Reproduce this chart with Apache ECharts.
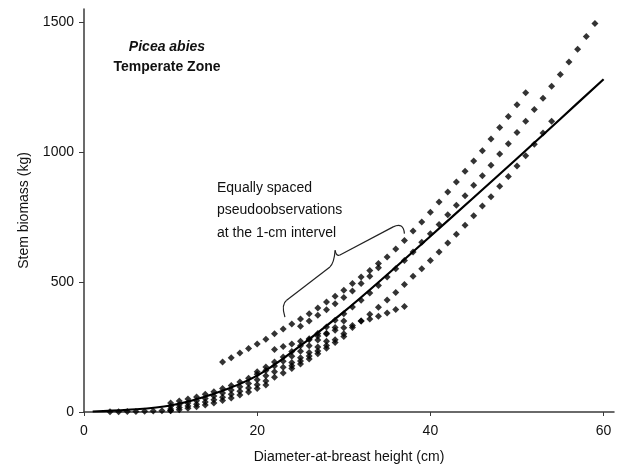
<!DOCTYPE html>
<html>
<head>
<meta charset="utf-8">
<script src="https://cdn.jsdelivr.net/npm/echarts@6/dist/echarts.min.js"></script>
<style>
    html, body { margin: 0; padding: 0; background: #fff; }
    #chart { width: 618px; height: 465px; }
</style>
</head>
<body>
<div id="chart"></div>
<script>
    // pseudoobservations, 1-cm steps: first DBH + stem biomass (kg)
    var zeroStart = 3;
    var zeroRow = [1, 1, 2, 2, 3, 4, 5, 6];
    var g4Start = 10;
    var g4 = [5, 9, 14, 20, 27, 35, 44, 54, 65, 77, 90, 104];
    var g3Start = 10;
    var g3 = [12, 17, 23, 30, 38, 47, 57, 68, 80, 92, 105, 119, 134, 150, 167, 185, 204, 224, 245, 267, 290];
    var g2Start = 10;
    var g2 = [22, 28, 35, 43, 52, 62, 73, 85, 97, 110, 124, 139, 155, 172, 190, 209, 229, 250, 272];
    var g1Start = 10;
    var g1 = [35, 42, 50, 58, 68, 78, 90, 102, 115, 130, 145, 160, 177, 195, 214, 234, 255, 277, 300, 325, 350];
    var aStart = 20;
    var aVals = [155, 173, 192, 212, 233, 255, 278, 302, 327, 353, 378, 404, 430, 458, 487, 519, 551, 583, 615, 653,
        686, 721, 759, 795, 832, 872, 909, 949, 992, 1032, 1075, 1118, 1163, 1207, 1253, 1298, 1346, 1395, 1444, 1494];
    var bStart = 16;
    var bVals = [192, 209, 227, 244, 262, 280, 301, 319, 338, 358, 378, 400, 423, 445, 468, 494, 519, 544, 571, 596,
        627, 660, 696, 731, 768, 808, 846, 885, 926, 965, 1005, 1050, 1094, 1137, 1182, 1228];
    var b2Start = 25;
    var b2Vals = [330, 350, 372, 393, 416, 440, 465, 494, 522, 555];
    var cStart = 24;
    var cVals = [178, 196, 215, 235, 256, 278, 301, 325, 350, 376, 403, 431, 460, 490, 522, 551, 583, 615, 650, 684,
        718, 755, 792, 828, 868, 906, 946, 986, 1030, 1073, 1118];
    var eStart = 22;
    var eVals = [240, 252, 262, 272, 282, 292, 303, 314, 324, 333, 350, 358, 368, 381, 394, 406];

    // fitted curve
    var fitDbh = [1, 5, 10, 15, 20, 25, 30, 35, 40, 45, 50, 55, 60];
    var fitBiomass = [2, 8, 25, 70, 140, 255, 385, 528, 676, 825, 975, 1127, 1280];

    var xTicks = [0, 20, 40, 60];
    var yTicks = [0, 500, 1000, 1500];

    var groups = [
        [zeroStart, zeroRow], [g4Start, g4], [g3Start, g3], [g2Start, g2], [g1Start, g1],
        [aStart, aVals], [bStart, bVals], [b2Start, b2Vals], [cStart, cVals], [eStart, eVals]
    ];

    var font = "'Liberation Sans', Arial, sans-serif";
    var axisColor = '#3a3a3a';

    var series = groups.map(function (g) {
        return {
            type: 'scatter',
            symbol: 'diamond',
            symbolSize: 7,
            itemStyle: { color: '#000' },
            data: g[1].map(function (v, i) { return [g[0] + i, v]; })
        };
    });
    series.push({
        type: 'line',
        smooth: 0.35,
        symbol: 'none',
        lineStyle: { color: '#000', width: 2.2 },
        data: fitDbh.map(function (d, i) { return [d, fitBiomass[i]]; }),
        z: 5
    });

    var myChart = echarts.init(document.getElementById('chart'));
    myChart.setOption({
        animation: false,
        grid: { left: 84, right: 4, top: 9, bottom: 53, outerBoundsMode: 'none' },
        xAxis: {
            type: 'value',
            min: 0,
            max: 61.2,
            interval: 20,
            name: 'Diameter-at-breast height (cm)',
            nameLocation: 'middle',
            nameGap: 38,
            nameTextStyle: { color: '#111', fontSize: 14, fontFamily: font },
            axisLine: { lineStyle: { color: axisColor, width: 1.5 } },
            axisTick: { length: 4, customValues: xTicks, lineStyle: { color: axisColor } },
            axisLabel: { customValues: xTicks, margin: 12, color: '#111', fontSize: 14, fontFamily: font },
            splitLine: { show: false }
        },
        yAxis: {
            type: 'value',
            min: 0,
            max: 1550,
            interval: 500,
            name: 'Stem biomass (kg)',
            nameLocation: 'middle',
            nameGap: 53,
            nameTextStyle: { color: '#111', fontSize: 14, fontFamily: font },
            axisLine: { show: true, lineStyle: { color: axisColor, width: 1.5 } },
            axisTick: { show: true, length: 5, customValues: yTicks, lineStyle: { color: axisColor } },
            axisLabel: {
                customValues: yTicks, margin: 10, color: '#111', fontSize: 14, fontFamily: font,
                formatter: function (v) { return String(v); }
            },
            splitLine: { show: false }
        },
        series: series
    });

    // brace anchors in data units
    var brace = [[23.2, 365], [23.4, 430], [28.4, 558], [29.0, 622], [29.5, 603], [35.7, 712], [37.0, 686]];
    var p = brace.map(function (d) { return myChart.convertToPixel({ gridIndex: 0 }, d); });
    var braceStyle = { stroke: '#222', lineWidth: 1.2, fill: null };
    function curve(a, b, cx, cy) {
        return { type: 'bezierCurve', shape: { x1: a[0], y1: a[1], x2: b[0], y2: b[1], cpx1: cx, cpy1: cy }, style: braceStyle };
    }
    function seg(a, b) {
        return { type: 'line', shape: { x1: a[0], y1: a[1], x2: b[0], y2: b[1] }, style: braceStyle };
    }

    myChart.setOption({
        graphic: [
            { type: 'text', x: 167, y: 40, style: { text: 'Picea abies', font: 'italic bold 14px ' + font, fill: '#111', align: 'center' } },
            { type: 'text', x: 167, y: 60, style: { text: 'Temperate Zone', font: 'bold 14px ' + font, fill: '#111', align: 'center' } },
            { type: 'text', x: 217, y: 181, style: { text: 'Equally spaced', font: '14px ' + font, fill: '#111' } },
            { type: 'text', x: 217, y: 203, style: { text: 'pseudoobservations', font: '14px ' + font, fill: '#111' } },
            { type: 'text', x: 217, y: 226, style: { text: 'at the 1-cm intervel', font: '14px ' + font, fill: '#111' } },
            curve(p[0], p[1], p[0][0] - 4, p[1][1] + 4),
            seg(p[1], p[2]),
            curve(p[2], p[3], p[3][0] - 1, p[2][1] - 4),
            curve(p[3], p[4], p[3][0] + 1, p[4][1] + 1),
            seg(p[4], p[5]),
            curve(p[5], p[6], p[6][0] - 1, p[5][1] - 5)
        ]
    });
</script>
</body>
</html>
